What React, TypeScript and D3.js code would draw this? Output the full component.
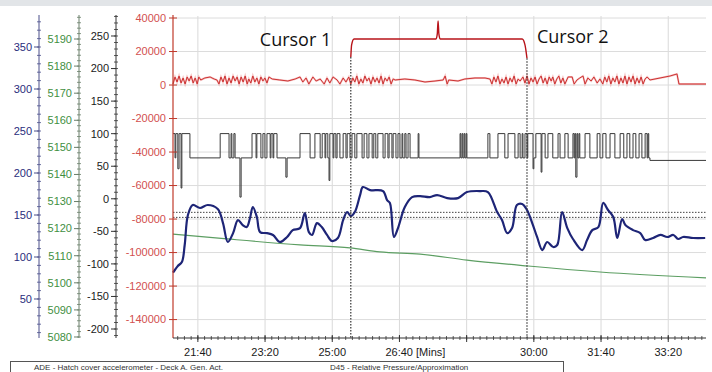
import React from 'react';
import * as d3 from 'd3';

const W = 712;
const H = 372;

// ---- axis ticks ----
const xTickValues = [21 + 40 / 60, 23 + 20 / 60, 25, 26 + 40 / 60, 28 + 20 / 60, 30, 31 + 40 / 60, 33 + 20 / 60];
const xTickLabels = ['21:40', '23:20', '25:00', '26:40 [Mins]', '', '30:00', '31:40', '33:20'];
const redTicks = [40000, 20000, 0, -20000, -40000, -60000, -80000, -100000, -120000, -140000];
const blueTicks = [350, 300, 250, 200, 150, 100, 50];
const greenTicks = [5190, 5180, 5170, 5160, 5150, 5140, 5130, 5120, 5110, 5100, 5090, 5080];
const blackTicks = [250, 200, 150, 100, 50, 0, -50, -100, -150, -200];

// ---- series (time in minutes) ----
const blueT = [21.05,21.17,21.27,21.34,21.42,21.54,21.72,21.91,22.16,22.29,22.41,22.54,22.66,22.78,22.88,22.96,23.03,23.13,23.21,23.38,23.53,23.70,23.88,24.02,24.20,24.32,24.42,24.50,24.62,24.74,24.87,24.99,25.14,25.27,25.37,25.46,25.56,25.69,25.76,25.94,26.26,26.36,26.43,26.53,26.63,26.80,26.98,27.18,27.42,27.60,27.85,28.12,28.34,28.67,28.86,29.09,29.21,29.34,29.46,29.58,29.71,29.83,29.96,30.08,30.21,30.33,30.48,30.58,30.70,30.83,30.97,31.20,31.32,31.45,31.60,31.72,31.84,31.97,32.07,32.19,32.27,32.46,32.64,32.76,32.96,33.14,33.31,33.46,33.58,33.70,33.95,34.25];
const blueV = [-112000,-108000,-105700,-95500,-77600,-71600,-73400,-71600,-74000,-82400,-93700,-88400,-80600,-83600,-84800,-79400,-72800,-78800,-87800,-88400,-89500,-93700,-90700,-86600,-85400,-76400,-87800,-89500,-82400,-84800,-89500,-93100,-91300,-80600,-75800,-78200,-75800,-65700,-60900,-62700,-63300,-68700,-70400,-90700,-85400,-72800,-66900,-66300,-66900,-65700,-67500,-67500,-63900,-63300,-63900,-75800,-80600,-88400,-85400,-71600,-71000,-74600,-82400,-90700,-98500,-93700,-96700,-95500,-75800,-85400,-91900,-98500,-92500,-86600,-84800,-70400,-74600,-78800,-91300,-80000,-83600,-86600,-88400,-92500,-91300,-89500,-90700,-89500,-91900,-90700,-91300,-91300];

const greenT = [21.05, 22.39, 24.20, 25.44, 26.18, 27.18, 28.34, 29.86, 31.64, 34.27];
const greenV = [5118.0, 5116.2, 5114.0, 5112.9, 5111.4, 5110.6, 5108.4, 5106.2, 5104.0, 5101.8];

const redSeries: [number, number][] = [
  [21.05,600],[21.10,4800],[21.15,1800],[21.20,5400],[21.25,1200],[21.30,4200],[21.35,600],[21.40,4800],[21.45,2400],[21.50,5400],[21.55,1200],[21.60,4200],[21.65,600],[21.69,4800],[21.74,3000],
  [21.84,4200],[21.97,4800],[22.07,3600],[22.14,3000],
  [22.19,600],[22.24,4800],[22.29,1800],[22.34,5400],[22.39,600],[22.44,4200],[22.49,1200],[22.54,5400],[22.59,2400],[22.64,4800],[22.69,600],[22.74,4800],[22.79,1800],[22.84,5400],[22.89,600],[22.93,3600],[22.98,1200],[23.03,5400],[23.08,1800],[23.13,4200],[23.18,600],[23.23,4800],[23.28,2400],[23.33,4200],[23.38,1200],[23.43,4800],[23.51,3600],
  [23.70,3000],[23.90,2400],[24.08,3600],[24.20,4800],
  [24.27,1800],[24.35,4200],[24.42,600],[24.52,4800],[24.60,2400],[24.70,3600],[24.80,600],[24.87,4200],[24.94,1200],[25.02,4800],[25.12,3000],[25.19,600],[25.27,4200],[25.34,1800],[25.41,4800],
  [25.46,600],[25.51,4200],[25.56,1800],[25.61,5400],[25.66,600],[25.71,3600],[25.76,1200],[25.81,5400],[25.86,2400],[25.91,4200],[25.96,600],[26.01,4800],[26.06,1800],[26.11,4200],[26.16,1200],[26.21,5400],[26.26,600],[26.31,4200],[26.36,2400],[26.41,4800],[26.46,600],[26.51,3600],[26.56,3000],
  [26.80,3600],[27.05,3000],[27.30,1800],[27.55,2400],[27.75,3000],[27.80,5400],[27.85,600],[27.89,3000],[28.12,2400],[28.29,3600],[28.54,4200],[28.79,4200],[28.91,3600],
  [28.96,600],[29.01,4800],[29.06,1800],[29.11,5400],[29.16,600],[29.21,3600],[29.26,1200],[29.31,4800],[29.36,600],[29.41,4200],[29.46,1800],[29.51,5400],[29.56,600],[29.61,3600],[29.66,2400],[29.73,4800],[29.78,1200],[29.83,5400],[29.88,600],[29.93,4200],[29.98,1800],
  [30.03,4800],[30.08,600],[30.13,3600],[30.18,5400],[30.23,1200],[30.28,4200],[30.33,600],[30.38,4800],[30.43,2400],[30.47,4800],[30.52,600],[30.57,3600],[30.62,5400],[30.67,1200],[30.72,4200],[30.77,600],[30.85,4800],[30.95,4800],[31.00,600],[31.07,3000],[31.14,4200],[31.22,5400],[31.27,600],[31.34,4200],[31.42,2400],[31.49,4800],[31.57,1200],[31.64,3600],[31.71,600],[31.76,4800],[31.81,1800],[31.86,5400],[31.91,600],[31.96,4200],[32.01,1800],[32.06,5400],[32.11,600],[32.16,4200],[32.21,1200],[32.26,5400],[32.31,600],[32.36,4800],[32.41,1800],[32.46,5400],[32.51,600],[32.56,4200],[32.61,1200],[32.66,4800],[32.71,600],[32.76,3600],[32.81,4800],[32.88,3000],
  [33.13,4200],[33.38,5400],[33.55,6600],[33.60,600],[34.27,600],
];

const HI = -29000;
const LO = -43500;
const blackSeries: [number, number][] = [
  [21.05,HI],[21.10,LO],[21.12,HI],[21.17,-50000],[21.20,HI],[21.25,-61500],[21.27,HI],[21.47,LO],[22.22,HI],[22.44,LO],[22.49,HI],[22.51,LO],[22.56,HI],[22.59,LO],[22.71,-66900],[22.74,LO],
  [23.01,HI],[23.11,LO],[23.13,HI],[23.23,LO],[23.28,HI],[23.33,LO],[23.38,HI],[23.46,LO],[23.48,HI],[23.53,LO],[23.55,HI],[23.63,LO],[23.85,-55000],[23.88,LO],
  [24.20,HI],[24.45,LO],[24.57,HI],[24.70,LO],[24.75,HI],[24.82,LO],[24.84,HI],[24.89,LO],[24.92,-57000],[24.94,HI],[25.02,LO],[25.04,HI],[25.09,LO],[25.12,HI],[25.19,LO],[25.27,HI],[25.34,LO],[25.37,HI],[25.44,LO],
  [25.49,HI],[25.56,LO],[25.61,HI],[25.74,LO],[25.79,HI],[25.86,LO],[25.91,HI],[25.99,LO],[26.03,HI],[26.08,LO],[26.13,HI],[26.26,LO],[26.31,HI],[26.38,LO],[26.41,HI],[26.48,LO],[26.51,HI],[26.58,LO],[26.63,HI],[26.68,LO],[26.73,HI],[26.75,LO],[26.80,HI],[26.83,LO],[26.88,HI],[26.93,LO],[27.13,HI],[27.15,LO],
  [28.17,HI],[28.19,LO],[28.22,HI],[28.24,LO],[28.27,HI],[28.29,LO],[28.32,HI],[28.34,LO],[28.86,HI],[28.91,LO],[29.11,HI],[29.28,LO],[29.36,HI],[29.53,LO],[29.61,HI],[29.66,LO],[29.71,HI],[29.73,LO],[29.78,HI],[29.83,LO],
  [29.85,HI],[29.98,-50000],[30.00,LO],[30.05,HI],[30.18,-52000],[30.20,HI],[30.28,LO],[30.35,HI],[30.47,LO],[30.60,HI],[30.65,LO],[30.77,HI],[30.85,LO],[30.97,HI],[31.00,LO],[31.02,HI],[31.04,-55000],[31.07,HI],[31.09,LO],[31.12,HI],[31.14,LO],
  [31.27,HI],[31.39,LO],[31.57,HI],[31.64,LO],[31.71,HI],[31.79,LO],[31.89,HI],[32.01,LO],[32.14,HI],[32.23,LO],[32.31,HI],[32.38,LO],[32.46,HI],[32.53,LO],[32.61,HI],[32.68,LO],[32.76,HI],[32.81,LO],[32.83,HI],[32.85,LO],[32.88,-45000],[34.27,-45000],
];

const cursorTimes = [25.46, 29.83];
const cursorLabels = ['Cursor 1', 'Cursor 2'];
const bracketT = [25.46, 25.48, 25.54, 27.575, 27.605, 27.625, 27.645, 27.675, 29.71, 29.78, 29.83];
const bracketV = [16700, 24000, 27500, 27500, 30500, 38200, 30500, 27500, 27500, 24000, 16000];
const refLevels = [-76000, -79000];
const legendItems = ['ADE - Hatch cover accelerometer - Deck A. Gen. Act.', 'D45 - Relative Pressure/Approximation'];

// ---- layout ----
const PL = 173, PR = 706, PT = 16, PB = 338;
const AXT = 15;
const x = d3.scaleLinear().domain([21.05, 34.27]).range([PL, PR]);
const yRed = d3.scaleLinear().domain([-151000, 41200]).range([PB, PT]);
const yBlue = d3.scaleLinear().domain([3.57, 388.1]).range([PB, AXT]);
const yGreen = d3.scaleLinear().domain([5079.63, 5198.86]).range([PB, AXT]);
const yBlack = d3.scaleLinear().domain([-213.8, 282.25]).range([PB, AXT]);

const FONT = "'Liberation Sans', Arial, sans-serif";
const CFONT = "'Open Sans', Lato, sans-serif";

function LeftAxis({ ax, scale, ticks, minorStep, color, lineColor }: any) {
  const [d0, d1] = scale.domain();
  const minors = d3.range(Math.ceil(d0 / minorStep) * minorStep, d1, minorStep);
  return (
    <g>
      <line x1={ax} x2={ax} y1={AXT} y2={PB} stroke={lineColor} strokeWidth={1} />
      {minors.map((m: number, i: number) => (
        <line key={'m' + i} x1={ax - 2} x2={ax + 2} y1={scale(m)} y2={scale(m)} stroke={lineColor} strokeWidth={0.8} />
      ))}
      {ticks.map((t: number) => (
        <g key={t}>
          <line x1={ax - 5} x2={ax} y1={scale(t)} y2={scale(t)} stroke={lineColor} strokeWidth={1} />
          <text x={ax - 7} y={scale(t)} dy="0.35em" textAnchor="end" fill={color} fontSize={11} fontFamily={FONT}>
            {t}
          </text>
        </g>
      ))}
    </g>
  );
}

export default function App() {
  const blueLine = d3.line<number>().x((_, i) => x(blueT[i])).y((v) => yRed(v)).curve(d3.curveCatmullRom.alpha(0.5));
  const greenLine = d3.line<number>().x((_, i) => x(greenT[i])).y((v) => yGreen(v)).curve(d3.curveMonotoneX);
  const redLine = d3.line<[number, number]>().x((d) => x(d[0])).y((d) => yRed(d[1]));
  const blackLine = d3.line<[number, number]>().x((d) => x(d[0])).y((d) => yRed(d[1])).curve(d3.curveStepAfter);
  const bracketLine = d3.line<number>().x((_, i) => x(bracketT[i])).y((v) => yRed(v)).curve(d3.curveMonotoneX);

  const xMinorTicks = d3.range(Math.ceil(21.05 * 6) / 6, 34.27, 1 / 6);

  return (
    <svg width={W} height={H} style={{ position: 'absolute', left: 0, top: 0, background: '#fff' }}>
      <rect x={0} y={0} width={W} height={H} fill="#ffffff" />
      <rect x={0} y={0} width={W} height={6} fill="#e2e5e8" />

      {/* grid */}
      {xTickValues.map((t, i) => (
        <line key={'vg' + i} x1={x(t)} x2={x(t)} y1={PT} y2={PB} stroke="#d9d9d9" strokeWidth={1} />
      ))}
      {redTicks.map((t) => (
        <line key={'hg' + t} x1={PL} x2={PR} y1={yRed(t)} y2={yRed(t)} stroke="#dcdcdc" strokeWidth={1} />
      ))}

      {/* reference dotted lines */}
      {refLevels.map((v) => (
        <line key={'ref' + v} x1={PL} x2={PR} y1={yRed(v)} y2={yRed(v)} stroke="#444" strokeWidth={1} strokeDasharray="1.5,1.5" />
      ))}

      {/* series */}
      <path d={greenLine(greenV) || ''} fill="none" stroke="#5c9e62" strokeWidth={1.2} />
      <path d={blackLine(blackSeries) || ''} fill="none" stroke="#3a3a3a" strokeWidth={1} />
      <path d={redLine(redSeries) || ''} fill="none" stroke="#f08a8a" strokeWidth={2} strokeOpacity={0.5} />
      <path d={redLine(redSeries) || ''} fill="none" stroke="#cc3333" strokeWidth={1} />
      <path d={blueLine(blueV) || ''} fill="none" stroke="#1e2577" strokeWidth={2.2} />

      {/* cursors */}
      {cursorTimes.map((t, i) => (
        <line key={'c' + i} x1={x(t)} x2={x(t)} y1={yRed(bracketV[i === 0 ? 0 : bracketV.length - 1])} y2={PB} stroke="#333" strokeWidth={1.2} strokeDasharray="1.5,1.5" />
      ))}
      <path d={bracketLine(bracketV) || ''} fill="none" stroke="#b8141a" strokeWidth={1.4} />
      <text x={x(cursorTimes[0]) - 91} y={46} fontSize={18} fontFamily={CFONT} fill="#111">{cursorLabels[0]}</text>
      <text x={x(cursorTimes[1]) + 10} y={43} fontSize={18} fontFamily={CFONT} fill="#111">{cursorLabels[1]}</text>

      {/* left axes */}
      <LeftAxis ax={39} scale={yBlue} ticks={blueTicks} minorStep={10} color="#2a2d7c" lineColor="#4a4f8a" />
      <LeftAxis ax={79} scale={yGreen} ticks={greenTicks} minorStep={2} color="#3f8f3f" lineColor="#6a7f6a" />
      <LeftAxis ax={116} scale={yBlack} ticks={blackTicks} minorStep={10} color="#1a1a1a" lineColor="#333" />

      {/* red axis */}
      <line x1={PL} x2={PL} y1={AXT} y2={PB} stroke="#c0392b" strokeWidth={1.2} />
      {redTicks.map((t) => (
        <g key={'rt' + t}>
          <line x1={PL - 4} x2={PL + 4} y1={yRed(t)} y2={yRed(t)} stroke="#c0392b" strokeWidth={1} />
          <text x={PL - 7} y={yRed(t)} dy="0.35em" textAnchor="end" fill="#d25050" fontSize={11} fontFamily={FONT}>
            {t}
          </text>
        </g>
      ))}

      {/* x axis */}
      <line x1={PL} x2={PR} y1={PB} y2={PB} stroke="#333" strokeWidth={1.2} />
      {xMinorTicks.map((t, i) => (
        <line key={'xm' + i} x1={x(t)} x2={x(t)} y1={PB - 2} y2={PB + 2} stroke="#333" strokeWidth={0.8} />
      ))}
      {xTickValues.map((t, i) => (
        <g key={'xt' + i}>
          <line x1={x(t)} x2={x(t)} y1={PB - 3} y2={PB + 4} stroke="#333" strokeWidth={1} />
          {xTickLabels[i] && (
            <text
              x={i === 3 ? x(t) - 14 : x(t)}
              y={356}
              textAnchor={i === 3 ? 'start' : 'middle'}
              fontSize={11}
              fontFamily={FONT}
              fill="#1a1a1a"
            >
              {xTickLabels[i]}
            </text>
          )}
        </g>
      ))}

      {/* legend (partly cut off at the bottom, as in the reference) */}
      <rect x={10.5} y={361.5} width={553} height={20} fill="#fff" stroke="#555" strokeWidth={1} />
      <text x={34} y={369.5} fontSize={8} fontFamily={FONT} fill="#333">
        {legendItems[0]}
      </text>
      <text x={330} y={369.5} fontSize={8} fontFamily={FONT} fill="#333">
        {legendItems[1]}
      </text>
    </svg>
  );
}
